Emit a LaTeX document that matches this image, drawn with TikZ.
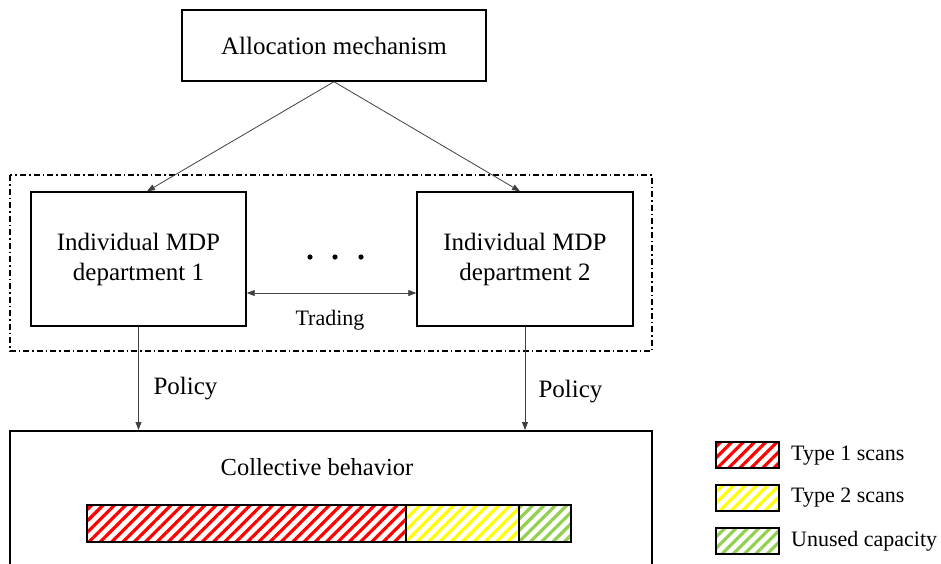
\documentclass[tikz,border=0pt]{standalone}
\usepackage{fontspec}
\setmainfont{Liberation Serif}
\usetikzlibrary{arrows.meta,patterns.meta}
\definecolor{arrowgray}{HTML}{404040}
\definecolor{lgreen}{HTML}{92D050}
\begin{document}
\begin{tikzpicture}[x=1pt,y=-1pt,
  box/.style={draw,line width=1.4pt,inner sep=0pt,align=center,font=\fontsize{25}{30}\selectfont},
  conn/.style={draw=arrowgray,line width=0.8pt,-{Triangle[length=8pt,width=6pt]}},
  lbl/.style={inner sep=0pt,font=\fontsize{25}{30}\selectfont},
  hatch/.style={draw,line width=1.2pt,pattern={Lines[angle=45,distance=8pt,line width=3.2pt]},pattern color=#1},
  legtext/.style={inner sep=0pt,anchor=west,font=\fontsize{22}{26}\selectfont}
]
\useasboundingbox (0,0) rectangle (941,563);
\clip (0,0) rectangle (941,563);

% top box
\node[box,minimum width=304pt,minimum height=71pt] (alloc) at (334,45.5) {Allocation mechanism};

% dash-dot group
\draw[line width=1.2pt,dash pattern=on 6pt off 3pt on 1.5pt off 3pt] (10,175) rectangle (652,351);

% department boxes
\node[box,minimum width=215pt,minimum height=134pt] (d1) at (138.5,259) {Individual MDP\\department 1};
\node[box,minimum width=216pt,minimum height=134pt] (d2) at (525,259) {Individual MDP\\department 2};

% dots
\fill (310,257) circle (2.6pt);
\fill (335,257) circle (2.6pt);
\fill (361,257) circle (2.6pt);

% trading
\coordinate (trd) at (331,293);
\draw[draw=arrowgray,line width=0.8pt,{Triangle[length=8pt,width=6pt]}-{Triangle[length=8pt,width=6pt]}] (d1.east |- trd) -- (d2.west |- trd);
\node[inner sep=0pt,font=\fontsize{22}{26}\selectfont] (trading) at (330,320) {Trading};

% allocation arrows
\draw[conn] (alloc.south) -- ([xshift=8.5pt]d1.north);
\draw[conn] (alloc.south) -- ([xshift=-5pt]d2.north);

% collective behaviour box (cut by the page edge)
\node[draw,line width=2pt,inner sep=0pt,minimum width=642pt,minimum height=180pt] (coll) at (331,521) {};
\node[lbl,font=\fontsize{24.5}{29}\selectfont] (colltext) at (317,467) {Collective behavior};

% policy arrows
\draw[conn] (d1.south) -- (d1.south |- coll.north);
\draw[conn] (d2.south) -- (d2.south |- coll.north);
\node[lbl] (pol1) at (185.5,389) {Policy};
\node[lbl] (pol2) at (570.5,392) {Policy};

% stacked bar
\path[hatch=red] (87,505) rectangle (406,542);
\path[hatch=yellow] (406,505) rectangle (519,542);
\path[hatch=lgreen] (519,505) rectangle (571,542);

% legend
\path[hatch=red] (716,442) rectangle (779,468);
\path[hatch=yellow] (716,485) rectangle (779,511);
\path[hatch=lgreen] (716,528) rectangle (779,554);
\node[legtext] (l1) at (791,456) {Type 1 scans};
\node[legtext] (l2) at (791,498) {Type 2 scans};
\node[legtext] (l3) at (791,541) {Unused capacity};
\end{tikzpicture}
\end{document}
